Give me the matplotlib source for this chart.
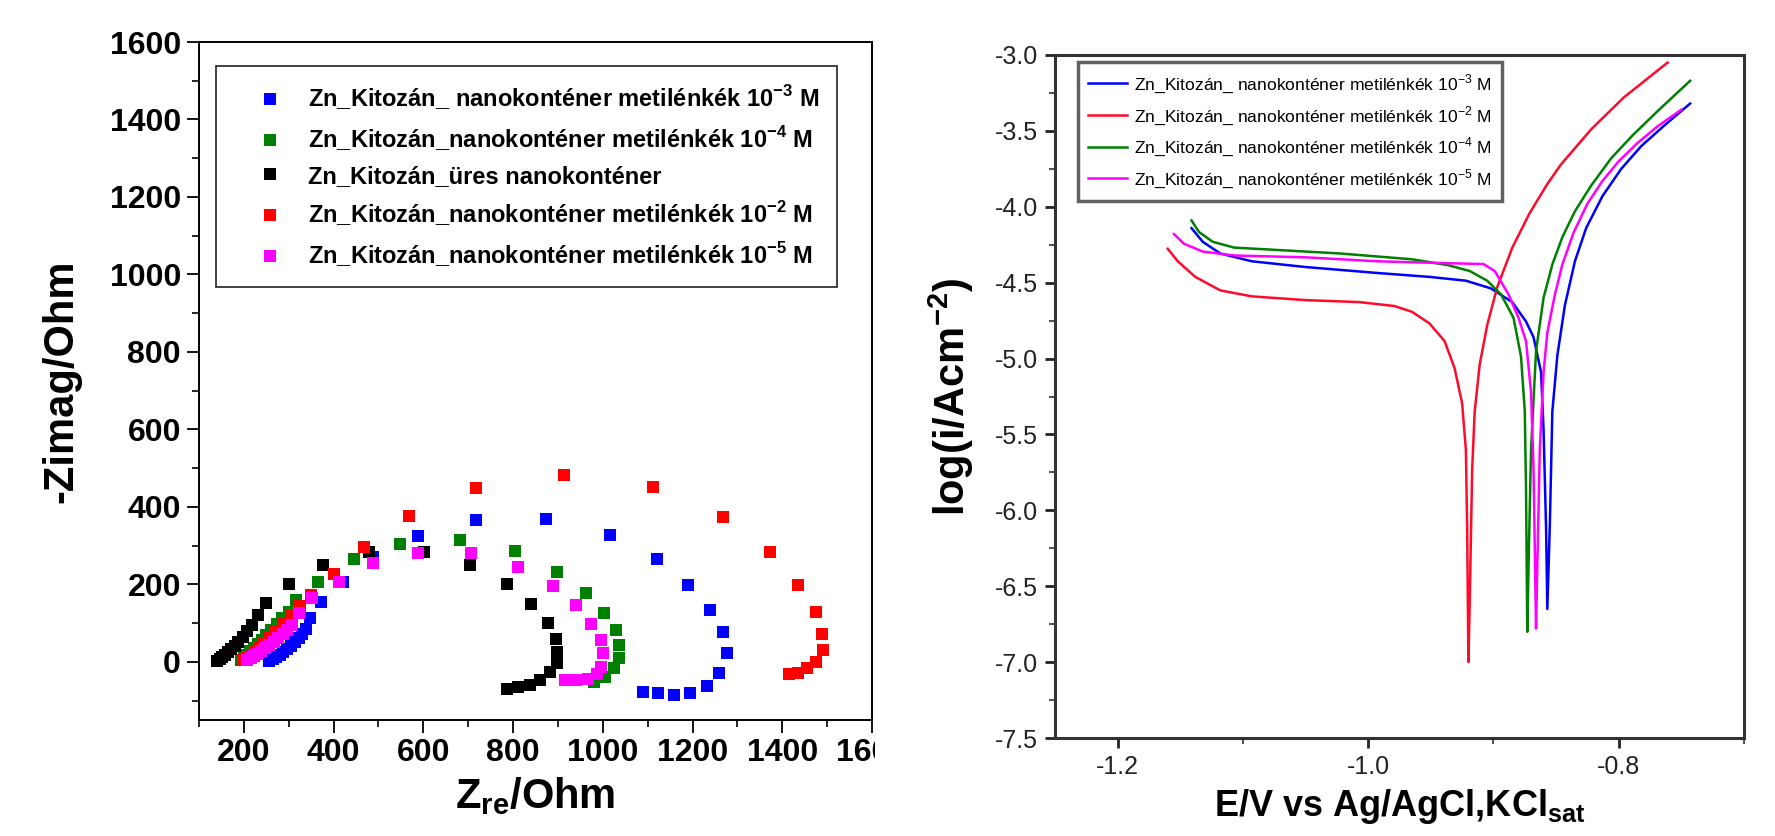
import matplotlib
matplotlib.use('Agg')
import matplotlib.pyplot as plt
from matplotlib.ticker import MultipleLocator, FormatStrFormatter
from matplotlib.patches import Rectangle

plt.rcParams['font.family'] = ['Liberation Sans', 'DejaVu Sans']
plt.rcParams['axes.unicode_minus'] = False
plt.rcParams['mathtext.fontset'] = 'custom'
plt.rcParams['mathtext.rm'] = 'Liberation Sans'
plt.rcParams['mathtext.bf'] = 'Liberation Sans:bold'

# --- Nyquist data (Zre, -Zimag) ---
blue_x = [257, 265, 272, 280, 288, 296, 304, 313, 322, 330, 339, 347, 371, 421, 487, 587, 718, 874,
          1015, 1121, 1190, 1240, 1267, 1277, 1260, 1233, 1195, 1158, 1124, 1089]
blue_y = [3, 7, 12, 18, 25, 33, 41, 51, 62, 73, 86, 112, 155, 207, 272, 325, 366, 368,
          328, 265, 198, 134, 78, 23, -28, -63, -80, -86, -80, -78]
green_x = [193, 200, 207, 214, 222, 231, 240, 250, 261, 273, 286, 300, 317, 366, 446, 549, 681, 805,
           898, 962, 1003, 1030, 1035, 1035, 1025, 1005, 980]
green_y = [5, 12, 19, 27, 36, 46, 57, 69, 82, 97, 113, 130, 159, 207, 265, 304, 315, 287,
           231, 178, 125, 82, 43, 9, -17, -39, -52]
black_x = [140, 146, 152, 158, 165, 172, 180, 188, 197, 207, 218, 232, 250, 300, 376, 480, 601, 705,
           787, 840, 877, 895, 899, 897, 882, 859, 837, 812, 787]
black_y = [3, 7, 12, 18, 25, 33, 42, 52, 64, 79, 96, 120, 153, 201, 250, 284, 283, 250,
           201, 149, 101, 60, 26, -4, -26, -47, -60, -65, -69]
red_x = [200, 207, 215, 224, 234, 245, 257, 271, 287, 305, 325, 350, 401, 468, 569, 718, 914, 1111,
         1269, 1373, 1436, 1475, 1488, 1490, 1475, 1456, 1436, 1416]
red_y = [4, 10, 17, 26, 36, 48, 62, 78, 97, 119, 143, 172, 228, 297, 377, 448, 483, 451,
         375, 284, 198, 129, 73, 30, 0, -17, -28, -30]
mag_x = [208, 215, 222, 230, 238, 248, 257, 267, 277, 287, 297, 307, 322, 351, 411, 487, 587, 706,
         812, 889, 941, 973, 997, 1000, 995, 986, 966, 941, 916]
mag_y = [4, 9, 14, 20, 27, 35, 43, 52, 61, 71, 83, 95, 125, 164, 207, 254, 280, 280,
         246, 197, 148, 99, 56, 22, -13, -30, -43, -47, -47]

# --- Tafel data (E, log i) ---
t_blue_x = [-1.141, -1.132, -1.118, -1.093, -1.050, -0.993, -0.951, -0.922, -0.902, -0.885, -0.874,
            -0.868, -0.862, -0.860, -0.858, -0.857, -0.855, -0.853, -0.849, -0.843, -0.835, -0.826,
            -0.813, -0.798, -0.782, -0.763, -0.743]
t_blue_y = [-4.141, -4.231, -4.308, -4.359, -4.397, -4.436, -4.462, -4.487, -4.538, -4.628, -4.756,
            -4.859, -5.09, -5.47, -6.115, -6.65, -6.1, -5.35, -4.98, -4.65, -4.36, -4.14,
            -3.93, -3.75, -3.60, -3.46, -3.32]
t_red_x = [-1.160, -1.152, -1.138, -1.118, -1.093, -1.050, -1.007, -0.979, -0.965, -0.951, -0.939,
           -0.931, -0.925, -0.922, -0.921, -0.920, -0.919, -0.917, -0.915, -0.911, -0.905, -0.897,
           -0.885, -0.871, -0.857, -0.846, -0.822, -0.796, -0.761]
t_red_y = [-4.277, -4.359, -4.462, -4.551, -4.590, -4.615, -4.628, -4.654, -4.692, -4.769, -4.885,
           -5.064, -5.295, -5.603, -6.115, -7.0, -6.63, -5.73, -5.35, -5.04, -4.78, -4.53,
           -4.27, -4.04, -3.85, -3.72, -3.49, -3.28, -3.05]
t_green_x = [-1.141, -1.135, -1.124, -1.107, -1.078, -1.022, -0.965, -0.936, -0.919, -0.905, -0.894,
             -0.884, -0.878, -0.875, -0.874, -0.873, -0.872, -0.870, -0.866, -0.860, -0.853, -0.845,
             -0.835, -0.822, -0.806, -0.789, -0.769, -0.743]
t_green_y = [-4.09, -4.167, -4.231, -4.269, -4.282, -4.308, -4.346, -4.385, -4.423, -4.487, -4.577,
             -4.731, -4.987, -5.346, -5.859, -6.80, -6.37, -5.60, -4.95, -4.60, -4.38, -4.20,
             -4.03, -3.86, -3.68, -3.53, -3.37, -3.17]
t_mag_x = [-1.155, -1.147, -1.132, -1.107, -1.050, -0.993, -0.936, -0.908, -0.899, -0.888, -0.880,
           -0.874, -0.870, -0.868, -0.866, -0.865, -0.863, -0.860, -0.857, -0.851, -0.845, -0.836,
           -0.825, -0.813, -0.800, -0.785, -0.769, -0.750]
t_mag_y = [-4.18, -4.244, -4.295, -4.321, -4.333, -4.359, -4.372, -4.377, -4.423, -4.577, -4.731,
           -4.885, -5.22, -5.73, -6.78, -6.37, -5.6, -5.09, -4.83, -4.58, -4.38, -4.17,
           -3.98, -3.83, -3.70, -3.58, -3.47, -3.36]

lbl_l = [r'Zn_Kitozán_ nanokonténer metilénkék 10$^{\bf{-3}}$ M',
         r'Zn_Kitozán_nanokonténer metilénkék 10$^{\bf{-4}}$ M',
         'Zn_Kitozán_üres nanokonténer',
         r'Zn_Kitozán_nanokonténer metilénkék 10$^{\bf{-2}}$ M',
         r'Zn_Kitozán_nanokonténer metilénkék 10$^{\bf{-5}}$ M']
lbl_r = [r'Zn_Kitozán_ nanokonténer metilénkék 10$^{-3}$ M',
         r'Zn_Kitozán_ nanokonténer metilénkék 10$^{-2}$ M',
         r'Zn_Kitozán_ nanokonténer metilénkék 10$^{-4}$ M',
         r'Zn_Kitozán_ nanokonténer metilénkék 10$^{-5}$ M']

fig = plt.figure(figsize=(17.75, 8.36), dpi=100)

# ---------------- left: Nyquist ----------------
ax1 = fig.add_axes([199/1775, 1-720/836, 673/1775, 678/836])
ms = 9.3
ax1.plot(blue_x, blue_y, 's', color='#0000ff', ms=ms, mew=0, label=lbl_l[0])
ax1.plot(green_x, green_y, 's', color='#008000', ms=ms, mew=0, label=lbl_l[1])
ax1.plot(black_x, black_y, 's', color='black', ms=ms, mew=0, label=lbl_l[2])
ax1.plot(red_x, red_y, 's', color='#ff0000', ms=ms, mew=0, label=lbl_l[3])
ax1.plot(mag_x, mag_y, 's', color='#ff00ff', ms=ms, mew=0, label=lbl_l[4])
ax1.set_xlim(100, 1600)
ax1.set_ylim(-150, 1600)
ax1.xaxis.set_minor_locator(MultipleLocator(100))
ax1.yaxis.set_major_locator(MultipleLocator(200))
ax1.yaxis.set_minor_locator(MultipleLocator(100))
ax1.set_xticks(range(200, 1601, 200))
ax1.tick_params(which='major', direction='out', length=9, width=1.3, labelsize=23, pad=4)
ax1.tick_params(which='minor', direction='out', length=5, width=1.2)
for t in ax1.get_xticklabels() + ax1.get_yticklabels():
    t.set_fontweight('bold')
for s in ax1.spines.values():
    s.set_linewidth(1.4)
ax1.set_xlabel(r'Z$_{\bf{re}}$/Ohm', fontsize=30, fontweight='bold', labelpad=5)
ax1.set_ylabel('-Zimag/Ohm', fontsize=30, fontweight='bold', labelpad=20)
leg1 = ax1.legend(loc='upper left', bbox_to_anchor=(0.025, 0.965), borderaxespad=0,
                  prop={'weight': 'bold', 'size': 17}, handletextpad=0.05, labelspacing=0.5,
                  handlelength=3.1, fancybox=False, borderpad=0.75)
leg1.get_frame().set_edgecolor('black')
leg1.get_frame().set_linewidth(1.3)

# cover clipped part of "1600"
fig.patches.append(Rectangle((875/1775, 0), 120/1775, 0.16, transform=fig.transFigure,
                             facecolor='white', edgecolor='none', zorder=10))

# ---------------- right: Tafel ----------------
ax2 = fig.add_axes([1055/1775, 1-738/836, 689/1775, 683/836])
lw = 1.8
ax2.plot(t_blue_x, t_blue_y, color='#0000ff', lw=lw, label=lbl_r[0])
ax2.plot(t_red_x, t_red_y, color='#ff0a2a', lw=lw, label=lbl_r[1])
ax2.plot(t_green_x, t_green_y, color='#008000', lw=lw, label=lbl_r[2])
ax2.plot(t_mag_x, t_mag_y, color='#ff00ff', lw=lw, label=lbl_r[3])
ax2.set_xlim(-1.25, -0.7)
ax2.set_ylim(-7.5, -3.0)
ax2.xaxis.set_major_locator(MultipleLocator(0.2))
ax2.xaxis.set_minor_locator(MultipleLocator(0.1))
ax2.yaxis.set_major_locator(MultipleLocator(0.5))
ax2.yaxis.set_minor_locator(MultipleLocator(0.25))
ax2.xaxis.set_major_formatter(FormatStrFormatter('%.1f'))
ax2.yaxis.set_major_formatter(FormatStrFormatter('%.1f'))
ax2.tick_params(which='major', direction='out', length=7, width=2, labelsize=18,
                colors='#222222', pad=5)
ax2.tick_params(which='minor', direction='out', length=4, width=1.5, colors='#555555')
for s in ax2.spines.values():
    s.set_linewidth(2.2)
    s.set_color('#333333')
ax2.set_xlabel(r'E/V vs Ag/AgCl,KCl$_{\bf{sat}}$', fontsize=26, fontweight='bold', labelpad=6)
ax2.set_ylabel(r'log(i/Acm$^{\bf{-2}}$)', fontsize=30, fontweight='bold', labelpad=14)
leg2 = ax2.legend(loc='upper left', bbox_to_anchor=(0.033, 0.99), borderaxespad=0,
                  fontsize=12.6, handlelength=2.2, handletextpad=0.4, labelspacing=0.5,
                  fancybox=False, borderpad=0.6)
leg2.get_frame().set_edgecolor('#3a3a3a')
leg2.get_frame().set_linewidth(2.5)

fig.savefig('out.png', dpi=100)
